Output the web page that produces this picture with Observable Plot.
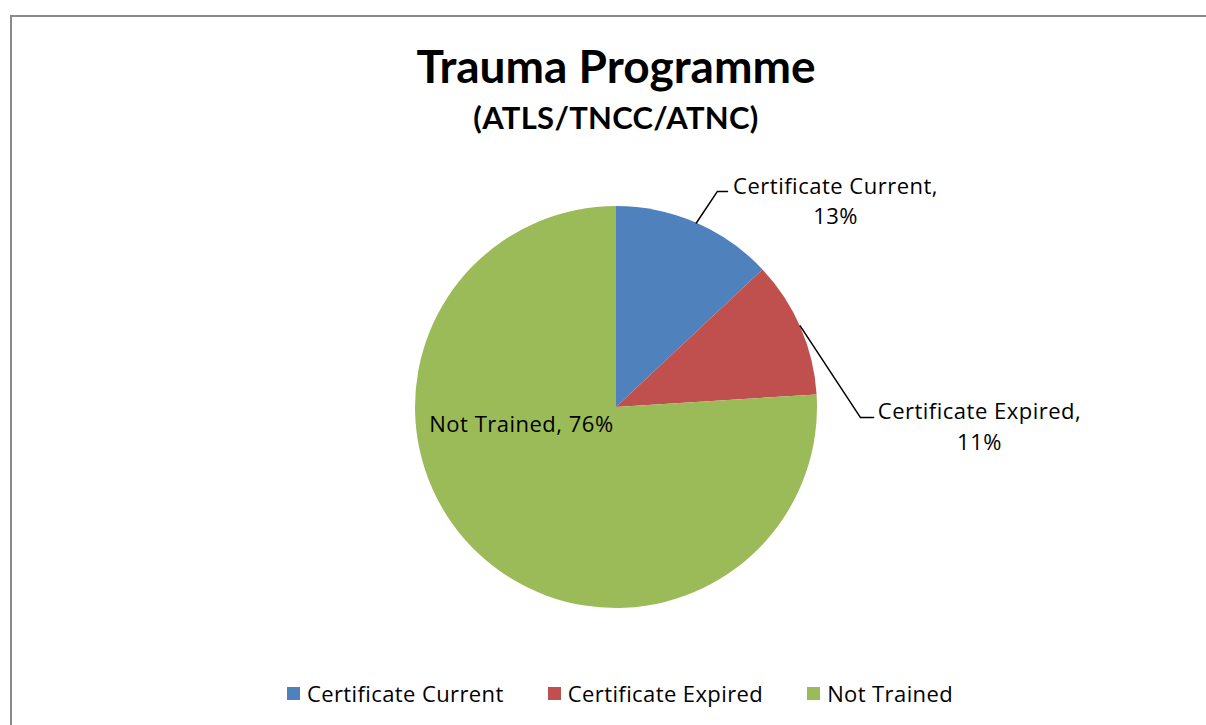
<!DOCTYPE html>
<html>
<head>
<meta charset="utf-8">
<script src="https://cdn.jsdelivr.net/npm/d3@7"></script>
<script src="https://cdn.jsdelivr.net/npm/@observablehq/plot@0.6"></script>
<style>
  html, body { margin: 0; padding: 0; background: #fff; }
  body { width: 1206px; height: 725px; position: relative; overflow: hidden; font-family: "Open Sans", Lato, sans-serif; color: #000; }
  #frame { position: absolute; left: 10px; top: 15px; width: 1300px; height: 800px; border-left: 2px solid #8a8a8a; border-top: 2px solid #8a8a8a; }
  #title { position: absolute; left: 0; width: 1232px; top: 39px; text-align: center; font-family: Lato, sans-serif; font-weight: bold; font-size: 46px; line-height: 54px; letter-spacing: 0px; }
  #subtitle { position: absolute; left: 0; width: 1232px; top: 97px; text-align: center; font-family: Lato, sans-serif; font-weight: bold; font-size: 31px; line-height: 40px; letter-spacing: 0.3px; }
  #chart { position: absolute; left: 0; top: 150px; }
  #legend { position: absolute; left: 0; width: 1240px; top: 679px; display: flex; justify-content: center; gap: 44px; font-size: 22px; line-height: 28px; letter-spacing: 0.4px; }
  .item { display: flex; align-items: center; }
  .sw { width: 13px; height: 13px; margin-right: 7px; }
</style>
</head>
<body>
<div id="frame"></div>
<div id="title">Trauma Programme</div>
<div id="subtitle">(ATLS/TNCC/ATNC)</div>
<div id="chart"></div>
<div id="legend"></div>
<script>
// ---- data ----
const categories = ["Certificate Current", "Certificate Expired", "Not Trained"];
const shares = [13, 11, 76];
const colors = ["#4F81BD", "#C0504D", "#9BBB59"];

const slices = categories.map((c, i) => ({category: c, value: shares[i], color: colors[i]}));
const pieGen = d3.pie().sort(null).value(d => d.value);
const arcs = pieGen(slices);

// label placement (in pie-radius units, centre = 0,0)
const labelSpots = [
  {x: 1.09, y: 1.037, elbow: [0.502, 1.075], end: [0.552, 1.075]},
  {x: 1.806, y: -0.085, elbow: [1.214, -0.05], end: [1.279, -0.05], angleShift: -0.01},
  {x: -0.473, y: -0.075}
];

const labels = arcs.map((a, i) => ({
  x: labelSpots[i].x, y: labelSpots[i].y,
  text: i < 2 ? `${a.data.category},\n${a.data.value}%` : `${a.data.category}, ${a.data.value}%`
}));

const leaders = [];
arcs.forEach((a, i) => {
  const s = labelSpots[i];
  if (!s.elbow) return;
  const mid = (a.startAngle + a.endAngle) / 2 + (s.angleShift || 0);
  leaders.push({k: i, x: Math.sin(mid), y: Math.cos(mid)});
  leaders.push({k: i, x: s.elbow[0], y: s.elbow[1]});
  leaders.push({k: i, x: s.end[0], y: s.end[1]});
});

const R = 201, W = 1206, H = 500, cx = 616, cy = 257;

function pieMark(data, {x, y}) {
  const g = d3.create("svg:g");
  const r = x(1) - x(0);
  const arcGen = d3.arc().innerRadius(0).outerRadius(r);
  g.attr("transform", `translate(${x(0)},${y(0)})`);
  g.selectAll("path").data(arcs).join("path")
    .attr("d", arcGen)
    .attr("fill", d => d.data.color)
    .attr("stroke", "none");
  return g.node();
}

const plot = Plot.plot({
  width: W, height: H,
  margin: 0,
  x: {domain: [-cx / R, (W - cx) / R], axis: null},
  y: {domain: [-(H - cy) / R, cy / R], axis: null},
  marks: [
    pieMark,
    Plot.line(leaders, {x: "x", y: "y", z: "k", stroke: "#000", strokeWidth: 1.5}),
    Plot.text(labels, {x: "x", y: "y", text: "text", textAnchor: "middle", fontSize: 22, lineHeight: 1.4, fill: "#000", fontFamily: "Open Sans", style: {letterSpacing: "0.5px"}})
  ]
});
plot.querySelectorAll("text").forEach(t => t.style.letterSpacing = "0.5px");
document.getElementById("chart").appendChild(plot);

// legend
const lg = d3.select("#legend");
categories.forEach((c, i) => {
  const it = lg.append("div").attr("class", "item");
  it.append("div").attr("class", "sw").style("background", colors[i]);
  it.append("span").text(c);
});
</script>
</body>
</html>
